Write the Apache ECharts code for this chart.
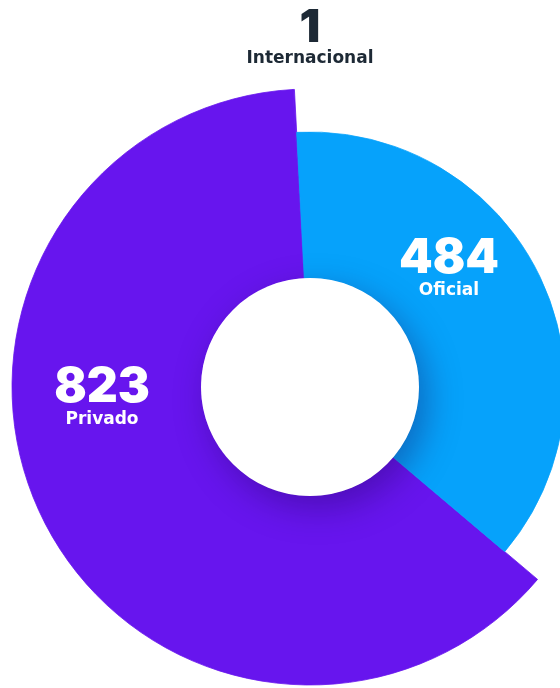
<!DOCTYPE html>
<html>
<head>
<meta charset="utf-8">
<script src="https://cdn.jsdelivr.net/npm/echarts@6/dist/echarts.min.js"></script>
<style>
  html, body { margin: 0; padding: 0; background: #ffffff; }
  #chart { width: 560px; height: 688px; }
</style>
</head>
<body>
<div id="chart"></div>
<script>
// Registros por tipo de entidad
const categories = ['Oficial', 'Privado', 'Internacional'];
const values = [484, 823, 1];

const COLORS = { Oficial: '#06A2FB', Privado: '#6715EE', Internacional: '#6715EE' };
const TEXT_DARK = '#1d2935';
const CENTER = [310, 387];
const INNER = 109;
// each ring draws only its own slices; all rings share the same angles
const rings = [
  { outer: 298, show: ['Privado', 'Internacional'] },
  { outer: 255, show: ['Oficial'] }
];
// where each label block sits
const labelSpots = {
  Oficial: [449, 269],
  Privado: [102, 398],
  Internacional: [310, 38]
};

const NUM_FONT = 'Inter, "Noto Sans", sans-serif';
const NAME_FONT = '"DejaVu Sans", Inter, sans-serif';

function buildData(ring) {
  return categories.map((name, i) => {
    const visible = ring.show.includes(name);
    const dark = name === 'Internacional';
    const ink = dark ? TEXT_DARK : '#ffffff';
    return {
      name,
      value: values[i],
      itemStyle: visible
        ? { color: COLORS[name], borderColor: COLORS[name], borderWidth: 0.8 }
        : { color: 'rgba(0,0,0,0)', borderWidth: 0 },
      label: {
        show: visible,
        color: ink,
        formatter: '{v|{c}}\n{n|{b}}',
        rich: {
          v: { fontFamily: NUM_FONT, fontWeight: 900, fontSize: dark ? 46 : 48, lineHeight: dark ? 42 : 44, color: ink, align: 'center' },
          n: { fontFamily: NAME_FONT, fontWeight: 'bold', fontSize: 17, lineHeight: 20, color: ink, align: 'center' }
        }
      }
    };
  });
}

const chart = echarts.init(document.getElementById('chart'), null, { renderer: 'canvas' });

chart.setOption({
  animation: false,
  backgroundColor: '#ffffff',
  series: rings.map((ring, k) => ({
    type: 'pie',
    center: CENTER,
    radius: [INNER, ring.outer],
    startAngle: 93,
    clockwise: true,
    avoidLabelOverlap: false,
    silent: true,
    z: 2 + k,
    label: { position: 'inside' },
    labelLine: { show: false },
    labelLayout: (params) => {
      const p = labelSpots[categories[params.dataIndex]];
      if (!p) return {};
      return { x: p[0], y: p[1], align: 'center', verticalAlign: 'middle' };
    },
    data: buildData(ring)
  })),
  graphic: [{
    type: 'circle',
    z: 10,
    shape: { cx: CENTER[0], cy: CENTER[1], r: INNER },
    style: {
      fill: '#ffffff',
      shadowBlur: 34,
      shadowOffsetX: 8,
      shadowOffsetY: 12,
      shadowColor: 'rgba(30, 0, 80, 0.35)'
    },
    silent: true
  }]
});
</script>
</body>
</html>
